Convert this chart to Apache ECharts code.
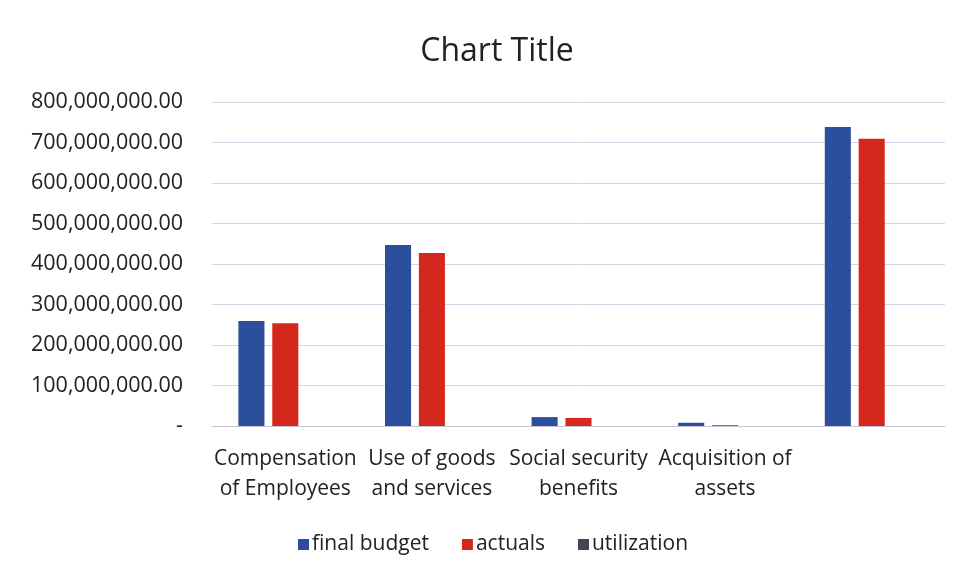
<!DOCTYPE html>
<html>
<head>
<meta charset="utf-8">
<script src="https://cdn.jsdelivr.net/npm/echarts@6/dist/echarts.min.js"></script>
<style>html,body{margin:0;padding:0;background:#fff;}#c{width:963px;height:579px;}</style>
</head>
<body>
<div id="c"></div>
<script>
const categories = ["Compensation\nof Employees", "Use of goods\nand services", "Social security\nbenefits", "Acquisition of\nassets", ""];
const finalBudget = [259000000, 447000000, 22000000, 8000000, 738000000];
const actuals = [254000000, 427000000, 20000000, 2000000, 709000000];
const utilization = [0.98, 0.96, 0.91, 0.25, 0.96];
const seriesNames = ["final budget", "actuals", "utilization"];
const yTicks = [0, 100000000, 200000000, 300000000, 400000000, 500000000, 600000000, 700000000, 800000000];

function fmt(v) {
  if (v === 0) return "-";
  return v.toLocaleString("en-US", {minimumFractionDigits: 2, maximumFractionDigits: 2});
}

const chart = echarts.init(document.getElementById('c'));
const font = "Open Sans, Liberation Sans, sans-serif";
chart.setOption({
  backgroundColor: '#ffffff',
  animation: false,
  title: {
    text: 'Chart Title', left: 492, top: 31, textAlign: 'center',
    textStyle: {fontFamily: font, fontSize: 32, fontWeight: 'normal', color: '#222'}
  },
  legend: {
    data: seriesNames, bottom: 19, left: 293, itemWidth: 11, itemHeight: 11, itemGap: 33,
    icon: 'rect',
    textStyle: {fontFamily: font, fontSize: 21, color: '#222', padding: [0,0,0,-2]}
  },
  grid: {left: 212, right: 18, top: 102, bottom: 153},
  xAxis: {
    type: 'category', data: categories,
    axisLine: {lineStyle: {color: '#c8c4d8'}},
    axisTick: {show: false},
    axisLabel: {fontFamily: font, fontSize: 21, color: '#222', lineHeight: 30, margin: 18, interval: 0}
  },
  yAxis: {
    type: 'value', min: yTicks[0], max: yTicks[yTicks.length-1], interval: 100000000,
    axisLine: {show: false}, axisTick: {show: false},
    splitLine: {lineStyle: {color: '#d8d4e6'}},
    axisLabel: {fontFamily: font, fontSize: 21.5, color: '#222', margin: 29, formatter: fmt}
  },
  series: [
    {name: seriesNames[0], type: 'bar', data: finalBudget, itemStyle: {color: '#2b4f9b'}, barGap: '30%', barCategoryGap: '36%'},
    {name: seriesNames[1], type: 'bar', data: actuals, itemStyle: {color: '#d4281c'}},
    {name: seriesNames[2], type: 'bar', data: utilization, itemStyle: {color: '#4a4452'}}
  ]
});
</script>
</body>
</html>
